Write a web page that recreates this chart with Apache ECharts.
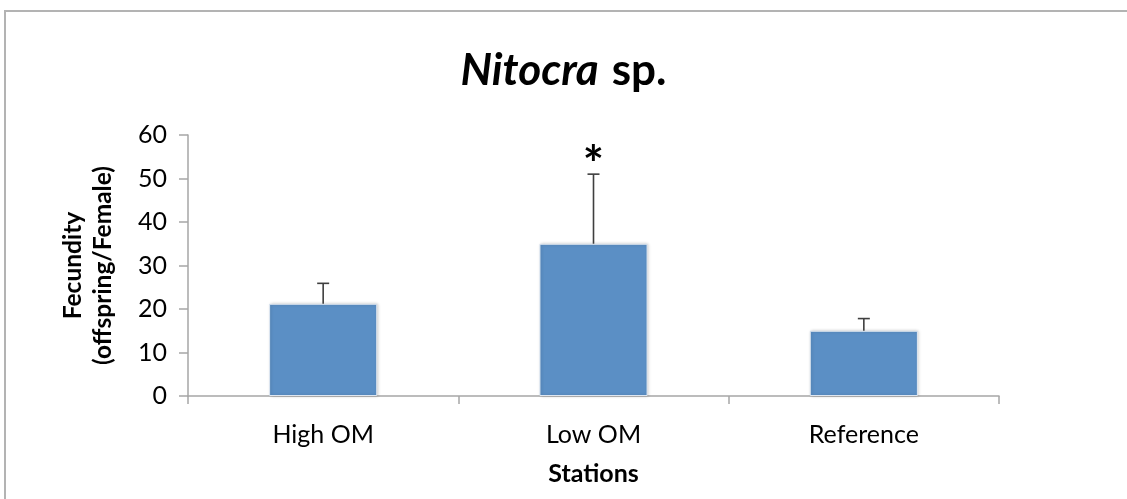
<!DOCTYPE html>
<html>
<head>
<meta charset="utf-8">
<script src="https://cdn.jsdelivr.net/npm/echarts@6/dist/echarts.min.js"></script>
<style>
  html, body { margin: 0; padding: 0; background: #fff; }
  #chart { width: 1127px; height: 499px; }
</style>
</head>
<body>
<div id="chart"></div>
<script>
// Stations and mean fecundity with upper standard-error whiskers
const stations = ['High OM', 'Low OM', 'Reference'];
const fecundity = [21.2, 35.0, 15.0];
const errorUp = [4.7, 16.0, 2.8];
const significance = ['', '*', ''];
const yTicks = [0, 10, 20, 30, 40, 50, 60];

const FONT = 'Lato, "Open Sans", sans-serif';

const chart = echarts.init(document.getElementById('chart'), null, { renderer: 'canvas' });

const errorData = stations.map((s, i) => [i, fecundity[i], fecundity[i] + errorUp[i], significance[i]]);

chart.setOption({
  animation: false,
  backgroundColor: '#ffffff',
  title: {
    text: '{i|Nitocra} {b|sp.}',
    left: 'center',
    top: 44,
    textStyle: {
      rich: {
        i: { fontFamily: FONT, fontSize: 44, fontWeight: 'bold', fontStyle: 'italic', color: '#000' },
        b: { fontFamily: FONT, fontSize: 44, fontWeight: 'bold', color: '#000', padding: [0, 0, 0, 8] }
      }
    }
  },
  graphic: [{
    type: 'polyline',
    shape: { points: [[5, 499], [5, 11], [1127, 11]] },
    style: { stroke: '#b3b3b3', lineWidth: 2, fill: null },
    silent: true
  }],
  grid: { left: 188, right: 128, top: 135, bottom: 103 },
  xAxis: {
    type: 'category',
    data: stations,
    boundaryGap: true,
    name: 'Stations',
    nameLocation: 'middle',
    nameGap: 65,
    nameTextStyle: { fontFamily: FONT, fontSize: 25, fontWeight: 'bold', color: '#000' },
    axisLine: { lineStyle: { color: '#a6a6a6', width: 1.5 } },
    axisTick: { show: true, length: 8, lineStyle: { color: '#a6a6a6', width: 1.5 } },
    axisLabel: { fontFamily: FONT, fontSize: 25, color: '#000', margin: 26 }
  },
  yAxis: {
    type: 'value',
    min: yTicks[0],
    max: yTicks[yTicks.length - 1],
    interval: 10,
    name: 'Fecundity\n(offspring/Female)',
    nameLocation: 'middle',
    nameGap: 70,
    nameTextStyle: { fontFamily: FONT, fontSize: 24.5, fontWeight: 'bold', color: '#000', lineHeight: 30 },
    axisLine: { show: true, lineStyle: { color: '#a6a6a6', width: 1.5 } },
    axisTick: { show: true, inside: false, length: 9, lineStyle: { color: '#a6a6a6', width: 1.5 } },
    splitLine: { show: false },
    axisLabel: { fontFamily: FONT, fontSize: 25, color: '#000', margin: 21 }
  },
  series: [
    {
      type: 'bar',
      data: fecundity,
      barWidth: '40%',
      itemStyle: {
        color: '#5b8fc5',
        borderColor: '#dfe7f1',
        borderWidth: 1,
        shadowColor: 'rgba(0,0,0,0.18)',
        shadowBlur: 3,
        shadowOffsetX: 1,
        shadowOffsetY: 0
      },
      z: 2
    },
    {
      type: 'custom',
      data: errorData,
      z: 5,
      renderItem: function (params, api) {
        const x = api.value(0);
        const base = api.coord([x, api.value(1)]);
        const top = api.coord([x, api.value(2)]);
        const cap = 6;
        const lineStyle = { stroke: '#3f3f3f', lineWidth: 1.6 };
        const children = [
          { type: 'line', shape: { x1: base[0], y1: base[1], x2: top[0], y2: top[1] }, style: lineStyle },
          { type: 'line', shape: { x1: top[0] - cap, y1: top[1], x2: top[0] + cap, y2: top[1] }, style: lineStyle }
        ];
        const mark = api.value(3);
        if (mark) {
          children.push({
            type: 'text',
            style: {
              text: mark,
              x: top[0],
              y: top[1] + 17,
              align: 'center',
              verticalAlign: 'bottom',
              font: 'bold 50px ' + FONT,
              fill: '#000'
            }
          });
        }
        return { type: 'group', children: children };
      }
    }
  ]
});
</script>
</body>
</html>
